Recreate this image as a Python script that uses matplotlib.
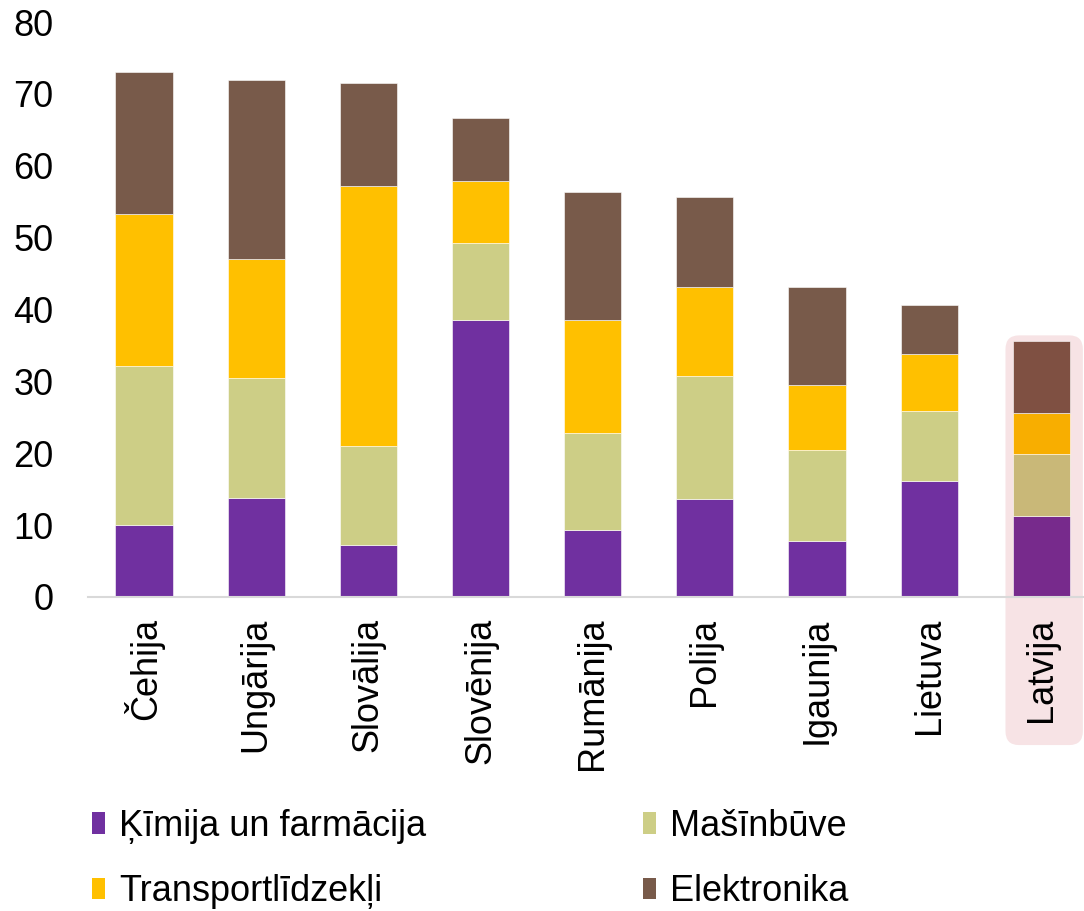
import matplotlib
matplotlib.use('Agg')
from matplotlib import pyplot as plt
from matplotlib.patches import FancyBboxPatch, Patch

plt.rcParams['font.family'] = ['Liberation Sans', 'DejaVu Sans']

countries = ['Čehija', 'Ungārija', 'Slovālija', 'Slovēnija', 'Rumānija',
             'Polija', 'Igaunija', 'Lietuva', 'Latvija']
kimija = [10.0, 13.8, 7.2, 38.5, 9.3, 13.6, 7.8, 16.1, 11.3]
masinbuve = [22.1, 16.7, 13.8, 10.7, 13.5, 17.1, 12.6, 9.8, 8.6]
transports = [21.2, 16.5, 36.2, 8.7, 15.7, 12.4, 9.1, 7.9, 5.7]
elektronika = [19.7, 25.0, 14.3, 8.7, 17.8, 12.5, 13.6, 6.8, 10.0]

series_names = ['Ķīmija un farmācija', 'Mašīnbūve', 'Transportlīdzekļi', 'Elektronika']
colors = ['#7030A0', '#CDCE86', '#FFC000', '#785A4A']
hl_colors = ['#772A8C', '#C9B878', '#F8AE00', '#7F5042']

fig = plt.figure(figsize=(10.84, 9.11), dpi=100)
ax = fig.add_axes([88 / 1084, (911 - 597) / 911, 1 - 88 / 1084, (597 - 22) / 911])

x = list(range(len(countries)))
bottom = [0.0] * len(countries)
for vals, col, hcol in zip([kimija, masinbuve, transports, elektronika], colors, hl_colors):
    cols = [col] * (len(countries) - 1) + [hcol]
    ax.bar(x, vals, width=0.51, bottom=bottom, color=cols, edgecolor='white',
           linewidth=0.4, zorder=3)
    bottom = [b + v for b, v in zip(bottom, vals)]

# highlight box behind Latvija
box = FancyBboxPatch((8 - 0.32, -20.6), 0.69, 20.6 + 36.4,
                     boxstyle='round,pad=0,rounding_size=0.12',
                     mutation_aspect=1 / 0.062,
                     facecolor='#F7E3E5', edgecolor='none', zorder=1, clip_on=False)
ax.add_patch(box)

ax.set_xlim(-0.5, 8.38)
ax.set_ylim(0, 80)
ax.set_yticks(range(0, 81, 10))
ax.tick_params(axis='y', length=0, labelsize=26, pad=25)
ax.tick_params(axis='x', length=0, labelsize=26, pad=15)
ax.set_xticks(x)
ax.set_xticklabels(countries, rotation=90, va='top')
for s in ['top', 'right', 'left']:
    ax.spines[s].set_visible(False)
ax.spines['bottom'].set_color('#D9D9D9')
ax.spines['bottom'].set_linewidth(1.5)
ax.spines['bottom'].set_zorder(4)

# legend is filled column by column, so reorder to get row-wise layout
order = [0, 2, 1, 3]
handles = [Patch(facecolor=colors[i], edgecolor='none') for i in order]
labels = [series_names[i] for i in order]
fig.legend(handles, labels, loc='lower left', bbox_to_anchor=(70 / 1084, -0.022),
           ncol=2, frameon=False, fontsize=26, handlelength=0.36, handleheight=0.55,
           handletextpad=0.4, columnspacing=6.0, labelspacing=0.85, borderpad=0.1)

fig.savefig('out.png', dpi=100)
